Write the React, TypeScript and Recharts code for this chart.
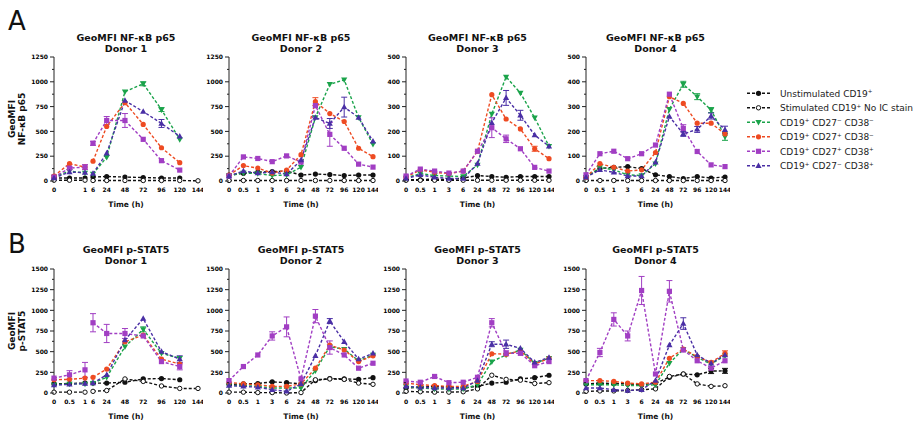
import React from 'react';
import { LineChart, Line, XAxis, YAxis, ErrorBar } from 'recharts';

const FONT = '"DejaVu Sans", Verdana, sans-serif';

// sampling times (h)
const TIMES = [0, 0.5, 1, 3, 6, 24, 48, 72, 96, 120, 144];
const TIMES_D1 = [0, 0.5, 1, 6, 24, 48, 72, 96, 120, 144];
const D1_EARLY_TICKS = [[0, 1], [0, 0.5, 1]];
const D1_LATE_TICKS = [6, 24, 48, 72, 96, 120, 144];

const ROW_TITLES = ['GeoMFI NF-κB p65', 'GeoMFI p-STAT5'];
const ROW_YLABELS = [['GeoMFI', 'NF-κB p65'], ['GeoMFI', 'p-STAT5']];
const ROW_LETTERS = ['A', 'B'];
const DONORS = ['Donor 1', 'Donor 2', 'Donor 3', 'Donor 4'];
const NFKB_MAX = [1250, 1250, 500, 500];
const NFKB_STEP = [250, 250, 100, 100];
const STAT5_MAX = [1500, 1500, 1500, 1500];
const STAT5_STEP = [250, 250, 250, 250];

// NF-kB p65, donor 1 (TIMES_D1)
const NFKB_D1 = {
  unstim: [30, 30, 30, 40, 45, 40, 35, 30, 30, null],
  nostain: [8, 8, 8, 5, 5, 5, 5, 5, 5, 2],
  n27n38: [40, 100, 80, 70, 240, 900, 980, 720, 420, null],
  p27n38: [50, 175, 140, 200, 550, 790, 570, 335, 185, null],
  p27p38: [40, 130, 140, 380, 610, 610, 420, 205, 110, null],
  n27p38: [30, 90, 85, 75, 280, 810, 700, 580, 450, null],
};
const NFKB_D1_ERR = {
  p27p38: [0, 15, 25, 20, 40, 70, 0, 0, 0, 0],
  n27p38: [0, 0, 0, 0, 0, 0, 0, 40, 0, 0],
  n27n38: [0, 0, 0, 0, 0, 0, 20, 20, 0, 0],
};
const NFKB_D2 = {
  unstim: [60, 77, 90, 95, 100, 60, 70, 65, 55, 60, 60],
  nostain: [5, 5, 5, 5, 5, 5, 5, 5, 5, 5, 5],
  n27n38: [55, 80, 75, 55, 60, 140, 640, 975, 1020, 640, 370],
  p27n38: [60, 155, 130, 80, 110, 265, 800, 680, 600, 330, 245],
  p27p38: [50, 243, 227, 195, 253, 190, 760, 470, 330, 170, 140],
  n27p38: [50, 100, 80, 90, 70, 210, 640, 580, 745, 640, 400],
};
const NFKB_D2_ERR = {
  p27p38: [0, 0, 0, 0, 0, 0, 0, 120, 0, 0, 0],
  n27p38: [0, 0, 0, 0, 0, 0, 0, 50, 100, 0, 0],
  p27n38: [0, 0, 0, 0, 0, 0, 40, 0, 0, 0, 0],
};
const NFKB_D3 = {
  unstim: [5, 5, 8, 5, 12, 22, 18, 15, 18, 18, 18],
  nostain: [3, 3, 3, 3, 3, 3, 3, 3, 3, 3, 3],
  n27n38: [12, 30, 22, 20, 18, 65, 270, 420, 355, 255, 140],
  p27n38: [15, 45, 35, 30, 40, 120, 348, 250, 210, 130, 90],
  p27p38: [20, 48, 40, 32, 40, 120, 215, 170, 130, 55, 40],
  n27p38: [10, 25, 15, 10, 10, 70, 235, 335, 265, 185, 140],
};
const NFKB_D3_ERR = {
  p27p38: [0, 0, 0, 0, 0, 0, 40, 15, 0, 0, 0],
  n27p38: [0, 0, 0, 0, 0, 0, 0, 30, 20, 0, 0],
  p27n38: [0, 0, 0, 0, 0, 0, 0, 0, 0, 10, 0],
};
const NFKB_D4 = {
  unstim: [15, 50, 55, 58, 50, 25, 18, 10, 18, 12, 16],
  nostain: [2, 2, 2, 2, 2, 2, 2, 2, 2, 2, 2],
  n27n38: [15, 55, 45, 25, 22, 70, 290, 390, 340, 286, 179],
  p27n38: [15, 70, 55, 40, 45, 115, 340, 313, 233, 233, 190],
  p27p38: [25, 110, 120, 90, 110, 145, 350, 212, 119, 65, 58],
  n27p38: [15, 45, 35, 20, 20, 75, 260, 190, 208, 262, 206],
};
const NFKB_D4_ERR = {
  n27n38: [0, 0, 0, 0, 0, 0, 0, 12, 12, 10, 15],
  n27p38: [0, 0, 0, 0, 0, 0, 0, 10, 12, 12, 15],
  p27p38: [0, 0, 0, 0, 0, 0, 0, 15, 0, 0, 0],
};

// p-STAT5
const STAT5_D1 = {
  unstim: [110, 115, 120, 120, 120, 130, 170, 175, 160, null],
  nostain: [10, 10, 10, 20, 30, 170, 140, 85, 55, 55],
  n27n38: [100, 110, 110, 120, 190, 560, 770, 480, 420, null],
  p27n38: [160, 165, 180, 190, 290, 620, 700, 410, 350, null],
  p27p38: [180, 220, 280, 850, 720, 720, 690, 380, 320, null],
  n27p38: [95, 105, 115, 120, 220, 640, 900, 500, 410, null],
};
const STAT5_D1_ERR = {
  p27p38: [0, 50, 90, 110, 110, 60, 0, 0, 40, 0],
  n27n38: [0, 0, 0, 0, 0, 0, 30, 0, 0, 0],
  n27p38: [0, 0, 0, 0, 0, 0, 0, 0, 40, 0],
};
const STAT5_D2 = {
  unstim: [105, 110, 115, 135, 125, 110, 150, 175, 170, 165, 185],
  nostain: [10, 10, 5, 5, 0, 5, 160, 170, 165, 120, 105],
  n27n38: [90, 90, 80, 60, 60, 60, 270, 560, 530, 390, 460],
  p27n38: [130, 110, 100, 80, 80, 110, 300, 580, 520, 380, 450],
  p27p38: [150, 320, 460, 690, 800, 170, 930, 550, 460, 300, 360],
  n27p38: [90, 80, 70, 40, 20, 110, 450, 870, 620, 410, 480],
};
const STAT5_D2_ERR = {
  p27p38: [0, 0, 0, 50, 120, 0, 80, 80, 0, 0, 0],
  n27p38: [0, 0, 0, 0, 0, 0, 0, 30, 0, 0, 0],
};
const STAT5_D3 = {
  unstim: [60, 70, 80, 70, 60, 80, 120, 130, 170, 185, 215],
  nostain: [20, 15, 10, 10, 15, 50, 215, 165, 155, 115, 125],
  n27n38: [80, 60, 50, 45, 50, 100, 380, 460, 520, 360, 420],
  p27n38: [120, 100, 90, 80, 80, 140, 475, 470, 510, 350, 420],
  p27p38: [145, 130, 200, 125, 130, 190, 850, 480, 480, 330, 380],
  n27p38: [80, 70, 60, 60, 60, 150, 590, 590, 540, 370, 430],
};
const STAT5_D3_ERR = {
  p27p38: [0, 0, 0, 0, 0, 0, 50, 30, 0, 0, 0],
  n27p38: [0, 0, 0, 0, 0, 0, 30, 50, 0, 0, 0],
};
const STAT5_D4 = {
  unstim: [110, 120, 115, 110, 100, 120, 190, 230, 220, 265, 268],
  nostain: [20, 25, 25, 30, 40, 50, 200, 230, 110, 80, 88],
  n27n38: [100, 100, 100, 90, 90, 100, 360, 530, 430, 350, 450],
  p27n38: [150, 150, 140, 120, 110, 130, 420, 530, 440, 370, 480],
  p27p38: [150, 490, 890, 690, 1240, 230, 1230, 520, 390, 300, 390],
  n27p38: [60, 60, 40, 30, 40, 150, 580, 840, 460, 360, 460],
};
const STAT5_D4_ERR = {
  p27p38: [0, 50, 80, 60, 170, 0, 130, 0, 0, 0, 0],
  n27p38: [0, 0, 0, 0, 0, 0, 0, 70, 0, 0, 0],
  unstim: [0, 0, 0, 0, 0, 0, 0, 0, 0, 30, 30],
  p27n38: [0, 0, 0, 0, 0, 0, 0, 0, 0, 0, 30],
};

const ROWS_DATA = [
  [[NFKB_D1, NFKB_D1_ERR], [NFKB_D2, NFKB_D2_ERR], [NFKB_D3, NFKB_D3_ERR], [NFKB_D4, NFKB_D4_ERR]],
  [[STAT5_D1, STAT5_D1_ERR], [STAT5_D2, STAT5_D2_ERR], [STAT5_D3, STAT5_D3_ERR], [STAT5_D4, STAT5_D4_ERR]],
];

const SERIES = [
  { key: 'unstim', label: 'Unstimulated CD19^+', color: '#111111', shape: 'circle' },
  { key: 'nostain', label: 'Stimulated CD19^+ No IC stain', color: '#111111', shape: 'open' },
  { key: 'n27n38', label: 'CD19^+ CD27^- CD38^-', color: '#1aa34a', shape: 'tridown' },
  { key: 'p27n38', label: 'CD19^+ CD27^+ CD38^-', color: '#ee4b22', shape: 'circle' },
  { key: 'p27p38', label: 'CD19^+ CD27^+ CD38^+', color: '#a13ec3', shape: 'square' },
  { key: 'n27p38', label: 'CD19^+ CD27^- CD38^+', color: '#4a2fa5', shape: 'tri' },
];

// layout
const COL_X = [[54, 198], [229, 373], [406, 549], [586, 725]];
const ROW_Y = [[57, 181], [269, 393]];
const D1_SPLIT = [85, 93];
const YW = 34;
const MT = 6;
const XH = 16;
const PAD = 5;

function buildRows(times: number[], vals: any, errs: any) {
  return times.map((t, i) => {
    const row: any = { t };
    SERIES.forEach((s) => {
      row[s.key] = vals[s.key]?.[i] ?? null;
      const e = errs[s.key]?.[i];
      if (e) row[s.key + 'Err'] = e;
    });
    return row;
  });
}

function Marker({ cx, cy, shape, color, size = 1 }: any) {
  if (cx == null || cy == null || isNaN(cy)) return <g />;
  const r = 2.6 * size;
  if (shape === 'circle') return <circle cx={cx} cy={cy} r={r} fill={color} />;
  if (shape === 'open') return <circle cx={cx} cy={cy} r={r - 0.4} fill="#fff" stroke={color} strokeWidth={1} />;
  if (shape === 'square') return <rect x={cx - r} y={cy - r} width={2 * r} height={2 * r} fill={color} />;
  if (shape === 'tri')
    return <polygon points={`${cx},${cy - 3.3 * size} ${cx - 3.1 * size},${cy + 2.2 * size} ${cx + 3.1 * size},${cy + 2.2 * size}`} fill={color} />;
  return <polygon points={`${cx - 3.1 * size},${cy - 2.2 * size} ${cx + 3.1 * size},${cy - 2.2 * size} ${cx},${cy + 3.3 * size}`} fill={color} />;
}

function YTick(props: any) {
  const { x, y, payload, step } = props;
  const major = payload.value % step === 0;
  const ax = x + 5;
  return (
    <g>
      <line x1={ax - (major ? 4 : 2)} x2={ax} y1={y} y2={y} stroke="#222" strokeWidth={1} />
      {major && (
        <text x={ax - 6} y={y} dy={2.2} textAnchor="end" fontSize={6} fontWeight="bold" fill="#000" fontFamily={FONT}>
          {payload.value}
        </text>
      )}
    </g>
  );
}

function XTick(props: any) {
  const { x, y, payload } = props;
  return (
    <text x={x} y={y} dy={7} textAnchor="middle" fontSize={6} fontWeight="bold" fill="#000" fontFamily={FONT}>
      {payload.value}
    </text>
  );
}

function Chart({ rows, x0, x1, y0, y1, yMax, yStep, showY, numeric, ticks }: any) {
  const leftPad = showY ? YW : PAD;
  const width = leftPad + (x1 - x0) + PAD;
  const height = MT + (y1 - y0) + XH;
  const yTicks: number[] = [];
  for (let v = 0; v <= yMax; v += yStep / 2) yTicks.push(v);
  return (
    <div style={{ position: 'absolute', left: x0 - leftPad, top: y0 - MT }}>
      <LineChart width={width} height={height} data={rows} margin={{ top: MT, right: PAD, bottom: 0, left: showY ? 0 : PAD }}>
        {numeric ? (
          <XAxis dataKey="t" type="number" domain={[ticks[0], ticks[ticks.length - 1]]} ticks={ticks} interval={0}
            height={XH} axisLine={false} tickLine={false} tickSize={3} tickMargin={1} tick={<XTick />} />
        ) : (
          <XAxis dataKey="t" type="category" interval={0} height={XH} axisLine={false} tickLine={false}
            tickSize={3} tickMargin={1} tick={<XTick />} />
        )}
        <YAxis type="number" domain={[0, yMax]} ticks={yTicks} interval={0} hide={!showY} width={YW}
          axisLine={{ stroke: '#222', strokeWidth: 1 }} tickLine={false} tickSize={4} tickMargin={1}
          tick={(p: any) => <YTick {...p} step={yStep} />} />
        {SERIES.map((s) => (
          <Line key={s.key} dataKey={s.key} stroke={s.color} strokeWidth={1.4} strokeDasharray="3 2"
            connectNulls={false} isAnimationActive={false} activeDot={false}
            dot={(p: any) => <Marker key={p.index} cx={p.cx} cy={p.cy} shape={s.shape} color={s.color} />}>
            {rows.some((r: any) => r[s.key + 'Err']) && (
              <ErrorBar dataKey={s.key + 'Err'} width={3} stroke={s.color} strokeWidth={1} direction="y" />
            )}
          </Line>
        ))}
      </LineChart>
    </div>
  );
}

function SupText({ x, y, text, fontSize }: any) {
  const parts = text.split(/\^([+-])/);
  let shifted = false;
  const nodes: any[] = [];
  parts.forEach((part: string, i: number) => {
    if (i % 2 === 1) {
      nodes.push(<tspan key={i} fontSize={fontSize * 0.62} dy={shifted ? 0 : -fontSize * 0.38}>{part === '-' ? '−' : '+'}</tspan>);
      shifted = true;
    } else if (part) {
      nodes.push(<tspan key={i} dy={shifted ? fontSize * 0.38 : 0}>{part}</tspan>);
      shifted = false;
    }
  });
  return <text x={x} y={y} fontSize={fontSize} fontFamily={FONT} fill="#222" style={{ whiteSpace: 'pre' }}>{nodes}</text>;
}

function Overlay() {
  return (
    <svg width={918} height={424} style={{ position: 'absolute', left: 0, top: 0 }}>
      {ROW_Y.map(([y0, y1], r) => {
        const cy = (y0 + y1) / 2;
        return (
          <g key={r}>
            <text x={8} y={r === 0 ? 30 : 253} fontSize={26} fontFamily={FONT} fill="#111">{ROW_LETTERS[r]}</text>
            {ROW_YLABELS[r].map((t, i) => (
              <text key={i} x={15 + i * 10} y={cy} transform={`rotate(-90, ${15 + i * 10}, ${cy})`} textAnchor="middle"
                fontSize={9} fontWeight="bold" fontFamily={FONT} fill="#111">{t}</text>
            ))}
            {COL_X.map(([x0, x1], c) => (
              <g key={c}>
                <text x={(x0 + x1) / 2} y={y0 - 16} textAnchor="middle" fontSize={9.5} fontWeight="bold" fontFamily={FONT} fill="#111">{ROW_TITLES[r]}</text>
                <text x={(x0 + x1) / 2} y={y0 - 5.5} textAnchor="middle" fontSize={9.5} fontWeight="bold" fontFamily={FONT} fill="#111">{DONORS[c]}</text>
                <text x={(x0 + x1) / 2} y={y1 + 26} textAnchor="middle" fontSize={7.5} fontWeight="bold" fontFamily={FONT} fill="#111">Time (h)</text>
              </g>
            ))}
          </g>
        );
      })}
      {SERIES.map((s, i) => {
        const y = 93.3 + i * 14.5;
        return (
          <g key={s.key}>
            <line x1={747} x2={770} y1={y} y2={y} stroke={s.color} strokeWidth={1.4} strokeDasharray="3 2" />
            <Marker cx={758.5} cy={y} shape={s.shape} color={s.color} />
            <SupText x={780} y={y + 3.3} text={s.label} fontSize={9} />
          </g>
        );
      })}
    </svg>
  );
}

export default function App() {
  return (
    <div style={{ position: 'absolute', left: 0, top: 0, width: 918, height: 424, background: '#fff', overflow: 'hidden' }}>
      <Overlay />
      {ROWS_DATA.map((row, r) =>
        row.map(([vals, errs], c) => {
          const [x0, x1] = COL_X[c];
          const [y0, y1] = ROW_Y[r];
          const yMax = r === 0 ? NFKB_MAX[c] : STAT5_MAX[c];
          const yStep = r === 0 ? NFKB_STEP[c] : STAT5_STEP[c];
          if (c === 0) {
            const rows = buildRows(TIMES_D1, vals, errs);
            const early = D1_EARLY_TICKS[r];
            return (
              <React.Fragment key={`${r}-${c}`}>
                <Chart rows={rows.filter((d) => d.t <= 1)} x0={x0} x1={D1_SPLIT[0]} y0={y0} y1={y1} yMax={yMax} yStep={yStep}
                  showY numeric ticks={early} />
                <Chart rows={rows.filter((d) => d.t >= 6)} x0={D1_SPLIT[1]} x1={x1} y0={y0} y1={y1} yMax={yMax} yStep={yStep}
                  showY={false} numeric ticks={D1_LATE_TICKS} />
              </React.Fragment>
            );
          }
          return (
            <Chart key={`${r}-${c}`} rows={buildRows(TIMES, vals, errs)} x0={x0} x1={x1} y0={y0} y1={y1}
              yMax={yMax} yStep={yStep} showY numeric={false} />
          );
        })
      )}
    </div>
  );
}
